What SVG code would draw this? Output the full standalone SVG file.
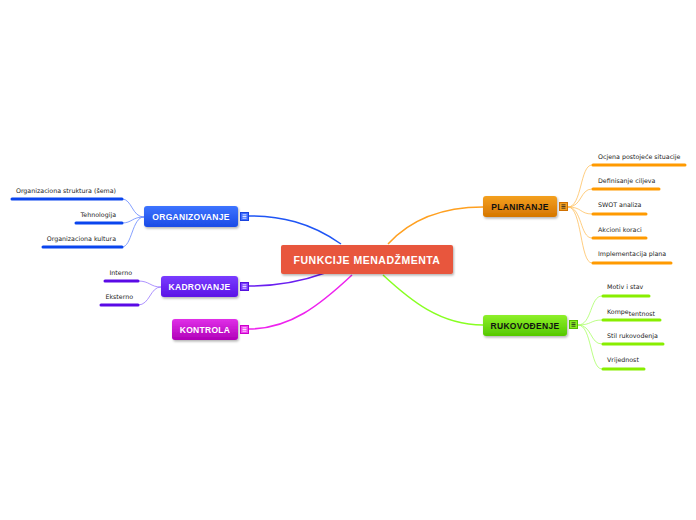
<svg xmlns="http://www.w3.org/2000/svg" width="696" height="520" viewBox="0 0 696 520">
<defs>
<linearGradient id="gBlue" x1="0" y1="0" x2="0" y2="1"><stop offset="0" stop-color="#3d74ff"/><stop offset="1" stop-color="#1a4ae6"/></linearGradient>
<linearGradient id="gPurple" x1="0" y1="0" x2="0" y2="1"><stop offset="0" stop-color="#7a3cff"/><stop offset="1" stop-color="#5a14e6"/></linearGradient>
<linearGradient id="gMag" x1="0" y1="0" x2="0" y2="1"><stop offset="0" stop-color="#e030e8"/><stop offset="1" stop-color="#b000b8"/></linearGradient>
<linearGradient id="gOrange" x1="0" y1="0" x2="0" y2="1"><stop offset="0" stop-color="#f4a020"/><stop offset="1" stop-color="#d57600"/></linearGradient>
<linearGradient id="gGreen" x1="0" y1="0" x2="0" y2="1"><stop offset="0" stop-color="#8ef02a"/><stop offset="1" stop-color="#55c800"/></linearGradient>
<filter id="sh" x="-20%" y="-30%" width="140%" height="170%"><feDropShadow dx="1" dy="1.5" stdDeviation="1" flood-color="#000" flood-opacity="0.3"/></filter>
</defs>
<style>
.main{fill:none;stroke-width:1.5}
.sub{fill:none;stroke-width:0.8}
.ul{fill:none;stroke-width:3;stroke-linecap:round}
.t{font-family:"DejaVu Sans",Verdana,sans-serif;font-size:6.3px;fill:#222}
.nt{font-family:"Liberation Sans",Arial,sans-serif;font-size:8.5px;font-weight:bold;text-anchor:middle;letter-spacing:0.3px}
.ct{font-family:"Liberation Sans",Arial,sans-serif;font-size:10.5px;font-weight:bold;fill:#fff;text-anchor:middle;letter-spacing:0.5px}
.tg{stroke-width:1}
</style>
<rect width="696" height="520" fill="#fff"/>
<g id="connectors">
<path class="main" stroke="#1f55f5" d="M341,244 C310,222 280,216 249,216"/>
<path class="main" stroke="#6a1ff0" d="M325,273 C300,282 275,286 249,286"/>
<path class="main" stroke="#ee22ee" d="M352,275 C320,305 290,329 249,329"/>
<path class="main" stroke="#ffa020" d="M388,244 C410,220 440,207 483,207"/>
<path class="main" stroke="#88ff22" d="M383,275 C410,300 440,325 483,325"/>
<g stroke="#6688ff" class="sub">
<path d="M144,217 C132,217 132,199 122,199"/>
<path d="M144,217 C132,217 132,223 122,223"/>
<path d="M144,217 C132,217 132,247 122,247"/>
</g>
<g stroke="#9977ff" class="sub">
<path d="M161,287 C150,287 150,281 138,281"/>
<path d="M161,287 C150,287 150,305 138,305"/>
</g>
<g stroke="#ffc060" class="sub">
<path d="M568,207 C582,207 580,165 592,165"/>
<path d="M568,207 C582,207 580,189 592,189"/>
<path d="M568,207 C582,207 580,214 592,214"/>
<path d="M568,207 C582,207 580,238 592,238"/>
<path d="M568,207 C582,207 580,263 592,263"/>
</g>
<g stroke="#aaff66" class="sub">
<path d="M578,325 C592,325 590,296 602,296"/>
<path d="M578,325 C592,325 590,320 602,320"/>
<path d="M578,325 C592,325 590,344 602,344"/>
<path d="M578,325 C592,325 590,369 602,369"/>
</g>
</g>
<g id="center">
<rect x="281" y="245" width="172" height="29" rx="2" fill="#e8563c" filter="url(#sh)"/>
<text class="ct" x="367" y="264">FUNKCIJE MENADŽMENTA</text>
</g>
<g id="organizovanje">
<rect x="144" y="206" width="94" height="21" rx="3" fill="url(#gBlue)" filter="url(#sh)"/>
<text class="nt" x="191" y="220" fill="#fff">ORGANIZOVANJE</text>
<rect class="tg" x="240.5" y="212.5" width="8" height="8" fill="#3d6cff" stroke="#1a44dd"/>
<path d="M242.5,214.8h4M242.5,216.5h4M242.5,218.2h4" stroke="#fff" stroke-width="0.8"/>
</g>
<g id="kadrovanje">
<rect x="161" y="276" width="77" height="21" rx="3" fill="url(#gPurple)" filter="url(#sh)"/>
<text class="nt" x="199.5" y="290" fill="#fff">KADROVANJE</text>
<rect class="tg" x="240.5" y="282.5" width="8" height="8" fill="#7a3cff" stroke="#5512dd"/>
<path d="M242.5,284.8h4M242.5,286.5h4M242.5,288.2h4" stroke="#fff" stroke-width="0.8"/>
</g>
<g id="kontrola">
<rect x="172" y="319" width="66" height="21" rx="3" fill="url(#gMag)" filter="url(#sh)"/>
<text class="nt" x="205" y="333" fill="#fff">KONTROLA</text>
<rect class="tg" x="240.5" y="325.5" width="8" height="8" fill="#ee44ee" stroke="#cc00cc"/>
<path d="M242.5,327.8h4M242.5,329.5h4M242.5,331.2h4" stroke="#fff" stroke-width="0.8"/>
</g>
<g id="planiranje">
<rect x="483" y="196" width="74" height="21" rx="3" fill="url(#gOrange)" filter="url(#sh)"/>
<text class="nt" x="520" y="210" fill="#111">PLANIRANJE</text>
<rect class="tg" x="559.5" y="202.5" width="8" height="8" fill="#f4a020" stroke="#d07000"/>
<path d="M561.5,204.8h4M561.5,206.5h4M561.5,208.2h4" stroke="#222" stroke-width="0.8"/>
</g>
<g id="rukovodjenje">
<rect x="483" y="315" width="84" height="21" rx="3" fill="url(#gGreen)" filter="url(#sh)"/>
<text class="nt" x="525" y="329" fill="#111">RUKOVOĐENJE</text>
<rect class="tg" x="569.5" y="320.5" width="8" height="8" fill="#88ee22" stroke="#55bb00"/>
<path d="M571.5,322.8h4M571.5,324.5h4M571.5,326.2h4" stroke="#222" stroke-width="0.8"/>
</g>
<g id="org-children">
<path class="ul" stroke="#0a45ee" d="M12,199H122M76,223H122M43,247H122"/>
<text class="t" x="116" y="193" text-anchor="end">Organizaciona struktura (šema)</text>
<text class="t" x="116" y="217" text-anchor="end">Tehnologija</text>
<text class="t" x="116" y="241" text-anchor="end">Organizaciona kultura</text>
</g>
<g id="kadr-children">
<path class="ul" stroke="#5a0ae6" d="M105,281H138M101,305H138"/>
<text class="t" x="132" y="275" text-anchor="end">Interno</text>
<text class="t" x="133" y="299" text-anchor="end">Eksterno</text>
</g>
<g id="plan-children">
<path class="ul" stroke="#ff9a00" d="M593,165H685M593,189H659M593,214H646M593,238H646M593,263H671"/>
<text class="t" x="598" y="159">Ocjena postojeće situacije</text>
<text class="t" x="598" y="183">Definisanje ciljeva</text>
<text class="t" x="598" y="207">SWOT analiza</text>
<text class="t" x="598" y="232">Akcioni koraci</text>
<text class="t" x="598" y="256">Implementacija plana</text>
</g>
<g id="ruk-children">
<path class="ul" stroke="#88ee00" d="M603,296H649M603,320H660M603,344H663M603,369H644"/>
<text class="t" x="607" y="289">Motiv i stav</text>
<text class="t" x="607" y="314">Kompe<tspan dy="1.5">tentnost</tspan></text>
<text class="t" x="607" y="338">Stil rukovođenja</text>
<text class="t" x="607" y="362">Vrijednost</text>
</g>
</svg>
